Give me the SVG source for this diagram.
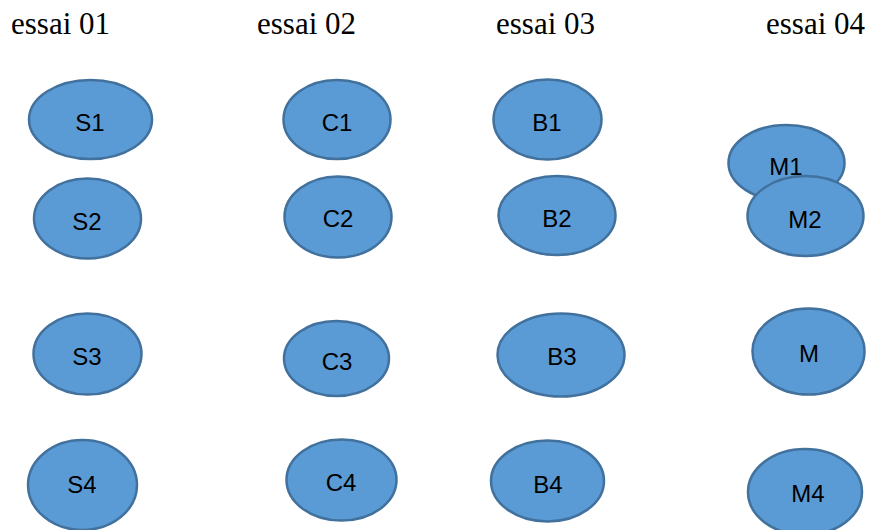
<svg xmlns="http://www.w3.org/2000/svg" width="869" height="530" viewBox="0 0 869 530">
  <style>
    .node ellipse { fill: #5B9BD5; stroke: #41719C; stroke-width: 2.5; }
    .node text { font-family: "Liberation Sans", Arial, sans-serif; font-size: 24px; fill: #000; text-anchor: middle; }
    .title { font-family: "Liberation Serif", "Times New Roman", serif; font-size: 31px; fill: #000; }
  </style>
  <rect width="869" height="530" fill="#fff"/>

  <!-- column headings -->
  <g id="titles">
    <text class="title" x="11" y="34">essai 01</text>
    <text class="title" x="257" y="34">essai 02</text>
    <text class="title" x="496" y="34">essai 03</text>
    <text class="title" x="766" y="34">essai 04</text>
  </g>

  <g id="connectors"/>

  <!-- essai 01 -->
  <g id="S1" class="node"><ellipse cx="90.5" cy="119.5" rx="61.5" ry="39.5"/><text x="90" y="131">S1</text></g>
  <g id="S2" class="node"><ellipse cx="87.5" cy="218.5" rx="53.5" ry="40"/><text x="87" y="230">S2</text></g>
  <g id="S3" class="node"><ellipse cx="87.5" cy="354" rx="54" ry="40.5"/><text x="87" y="365">S3</text></g>
  <g id="S4" class="node"><ellipse cx="82.5" cy="485" rx="54.5" ry="45"/><text x="82" y="493">S4</text></g>

  <!-- essai 02 -->
  <g id="C1" class="node"><ellipse cx="337" cy="119.5" rx="53.5" ry="39.5"/><text x="337" y="131">C1</text></g>
  <g id="C2" class="node"><ellipse cx="338" cy="217" rx="53.5" ry="40.5"/><text x="338" y="227">C2</text></g>
  <g id="C3" class="node"><ellipse cx="336.5" cy="358.5" rx="52.5" ry="37.5"/><text x="337" y="370">C3</text></g>
  <g id="C4" class="node"><ellipse cx="341.5" cy="480" rx="55" ry="40.5"/><text x="341" y="491">C4</text></g>

  <!-- essai 03 -->
  <g id="B1" class="node"><ellipse cx="547.5" cy="119.5" rx="54" ry="40"/><text x="547" y="131">B1</text></g>
  <g id="B2" class="node"><ellipse cx="557" cy="215.5" rx="58.5" ry="39.5"/><text x="557" y="227">B2</text></g>
  <g id="B3" class="node"><ellipse cx="561" cy="355" rx="63.5" ry="41.5"/><text x="562" y="365">B3</text></g>
  <g id="B4" class="node"><ellipse cx="547.5" cy="481" rx="56.5" ry="40.5"/><text x="548" y="493">B4</text></g>

  <!-- essai 04 (M2 sits on top of M1) -->
  <g id="M1" class="node"><ellipse cx="786.5" cy="163" rx="58" ry="38"/><text x="786" y="175">M1</text></g>
  <g id="M2" class="node"><ellipse cx="805.5" cy="216" rx="58" ry="40"/><text x="805" y="228">M2</text></g>
  <g id="M" class="node"><ellipse cx="808.5" cy="351.5" rx="56" ry="43"/><text x="809" y="362">M</text></g>
  <g id="M4" class="node"><ellipse cx="805" cy="492" rx="57" ry="43"/><text x="808" y="502">M4</text></g>
</svg>
